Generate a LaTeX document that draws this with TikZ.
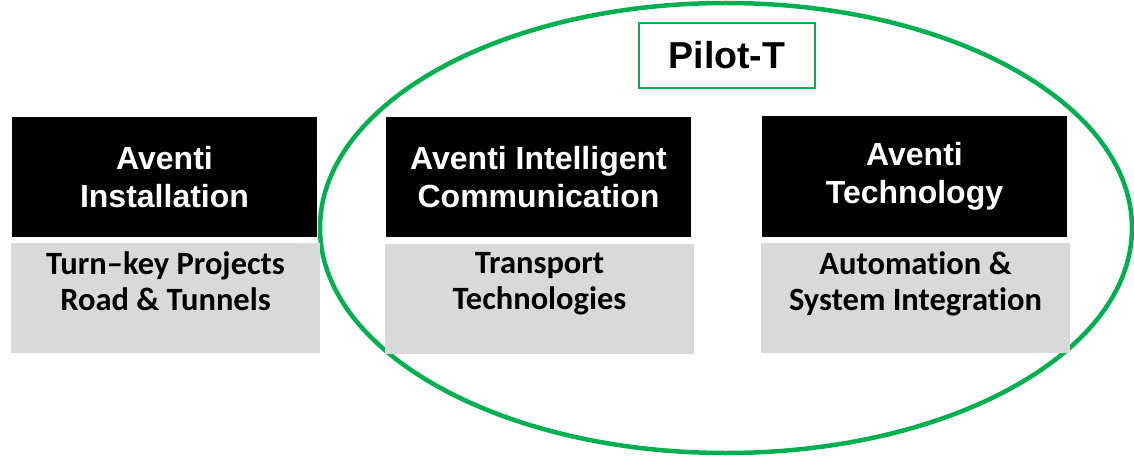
\documentclass[tikz,border=0pt]{standalone}
\usepackage{fontspec}
\setmainfont{Liberation Sans}
\newfontfamily\subfont[Ligatures={NoCommon}]{Carlito}
\usetikzlibrary{positioning,shapes.geometric}
\definecolor{pilotgreen}{RGB}{0,176,80}
\definecolor{subgray}{RGB}{217,217,217}

\tikzset{
    headbox/.style={fill=black, text=white, align=center, inner sep=0,
        minimum width=305pt, minimum height=120pt,
        font=\fontsize{32}{38}\selectfont\bfseries},
    subbox/.style={fill=subgray, inner sep=0, minimum width=309pt, minimum height=110pt},
    subtext/.style={align=center, inner sep=0,
        font=\subfont\fontsize{32.5}{36}\selectfont\bfseries},
}

\begin{document}
\begin{tikzpicture}[x=1pt, y=-1pt]
        \useasboundingbox (0,0) rectangle (1134,457);

        % pilot-t group
        \node[draw=pilotgreen, line width=4.5pt, ellipse, inner sep=0,
              minimum width=812pt, minimum height=450pt] (pilotGroup) at (726,228) {};
        \node[draw=pilotgreen, line width=2pt, fill=white, minimum width=176pt, minimum height=65pt,
              font=\fontsize{37.5}{40}\selectfont\bfseries] (pilotT) at (727,55.5) {Pilot-T};

        % --------------------------------------------------

        \node[headbox] (instHead) at (164.5,177) {Aventi\\Installation};
        \node[subbox] (instSub) at (165.5,298) {};
        \node[subtext, below=9pt of instSub.north] (instText) {Turn–key Projects\\Road \& Tunnels};

        % --------------------------------------------------

        \node[headbox] (commHead) at (538.5,177) {Aventi Intelligent\\Communication};
        \node[subbox] (commSub) at (539.5,298.5) {};
        \node[subtext, below=9pt of commSub.north] (commText) {Transport\\Technologies};

        % --------------------------------------------------

        \node[headbox] (techHead) at (914.5,176.5) {Aventi\\Technology};
        \node[subbox] (techSub) at (915.5,297.5) {};
        \node[subtext, below=9pt of techSub.north] (techText) {Automation \&\\System Integration};
    \end{tikzpicture}
\end{document}
